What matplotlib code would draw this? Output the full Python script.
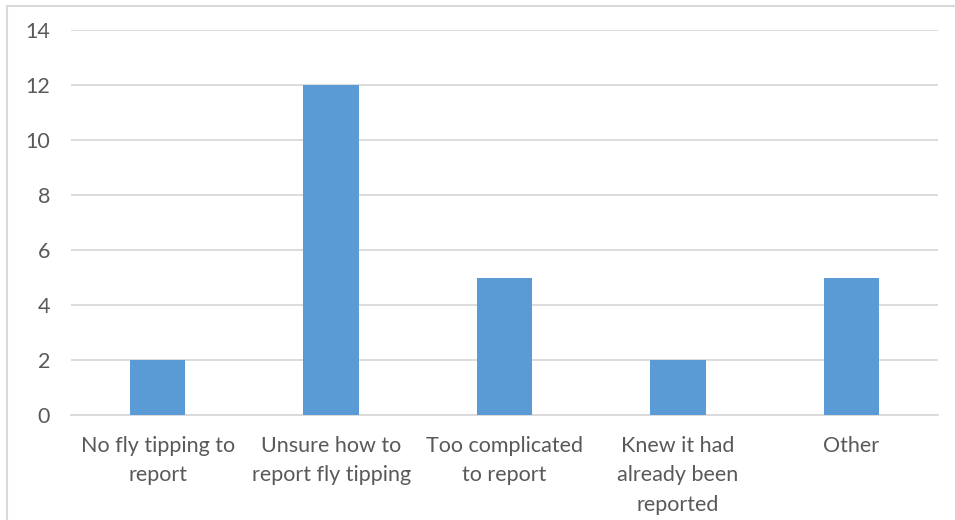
import matplotlib.pyplot as plt
from matplotlib.patches import Rectangle

# ---------- Data ----------
categories = [
    "No fly tipping to\nreport",
    "Unsure how to\nreport fly tipping",
    "Too complicated\nto report",
    "Knew it had\nalready been\nreported",
    "Other",
]
counts = [2, 12, 5, 2, 5]
y_ticks = [0, 2, 4, 6, 8, 10, 12, 14]

BAR_COLOR = "#5B9BD5"
TEXT_COLOR = "#595959"
GRID_COLOR = "#D9D9D9"

plt.rcParams["font.family"] = ["Lato", "DejaVu Sans"]

fig = plt.figure(figsize=(9.55, 5.2), dpi=100)
W, H = 955, 520
ax = fig.add_axes([71 / W, 1 - 415 / H, (938 - 71) / W, (415 - 30) / H])

x = range(len(categories))
ax.bar(x, counts, width=0.32, color=BAR_COLOR, zorder=3)

ax.set_xlim(-0.5, len(categories) - 0.5)
ax.set_ylim(0, 14)
ax.set_yticks(y_ticks)
ax.set_xticks(list(x))
ax.set_xticklabels(categories, fontsize=15.5, color=TEXT_COLOR, linespacing=1.6)
ax.tick_params(axis="y", labelsize=15.5, labelcolor=TEXT_COLOR, length=0, pad=15)
ax.tick_params(axis="x", length=0, pad=15)

ax.grid(axis="y", color=GRID_COLOR, linewidth=1.3, zorder=0)
for side in ["top", "right", "left"]:
    ax.spines[side].set_visible(False)
ax.spines["bottom"].set_color(GRID_COLOR)
ax.spines["bottom"].set_linewidth(1.3)

# chart frame
fig.patches.append(Rectangle((6.5 / W, -0.1), 2.0, 1.1 - 6 / H,
                             transform=fig.transFigure, fill=False,
                             edgecolor=GRID_COLOR, linewidth=1.5))

fig.savefig("out.png", dpi=100)
